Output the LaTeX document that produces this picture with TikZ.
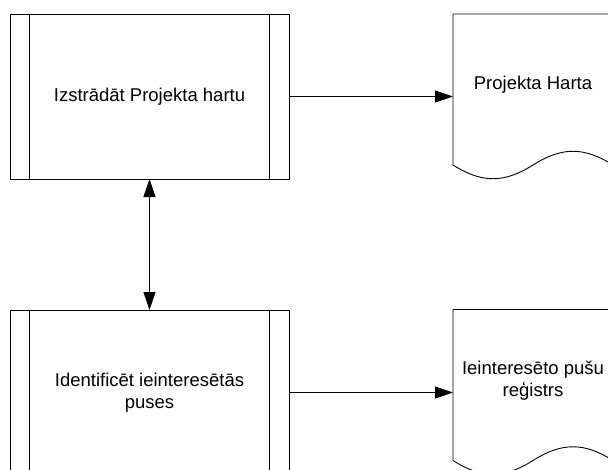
\documentclass[tikz,border=0pt]{standalone}
\usepackage{fontspec}
\setmainfont{Liberation Sans}
\usetikzlibrary{arrows.meta,calc}

\tikzset{
  line/.style={draw=black, line width=0.9pt},
  % process box with a narrow band on each side
  procbox/.style={line, rectangle, minimum width=279pt, minimum height=165pt,
    inner sep=0pt, outer sep=0pt, align=center,
    font=\fontsize{18.5}{22}\selectfont,
    path picture={
      \draw[line width=0.9pt]
        ([xshift=19pt]path picture bounding box.north west) --
        ([xshift=19pt]path picture bounding box.south west)
        ([xshift=-20pt]path picture bounding box.north east) --
        ([xshift=-20pt]path picture bounding box.south east);
    }},
  % area of a document symbol (frame drawn separately)
  docarea/.style={rectangle, minimum width=160pt, minimum height=151pt,
    inner sep=0pt, outer sep=0pt},
  doctext/.style={align=center, inner sep=0pt,
    font=\fontsize{18.5}{22}\selectfont},
  flow/.style={line, -{Triangle[length=18pt,width=12pt]}},
  both/.style={line, {Triangle[length=18pt,width=12pt]}-{Triangle[length=18pt,width=12pt]}},
}

% document outline with a wavy lower edge
\newcommand{\docframe}[1]{%
  \draw[line] (#1.south west) -- (#1.north west) -- (#1.north east) -- (#1.south east)
    .. controls +(-29,-18.3) and +(29,-18.3) .. (#1.south)
    .. controls +(-29,18.3) and +(29,18.3) .. (#1.south west) -- cycle;}

\begin{document}
\begin{tikzpicture}[x=1pt,y=-1pt]
\useasboundingbox[fill=white] (0,0) rectangle (608,469);

\node[procbox] (p1) at (149.5,96.5) {Izstrādāt Projekta hartu};
\node[procbox] (p2) at (149.5,392.5) {Identificēt ieinteresētās\\puses};

\node[docarea] (d1) at (533,89.5) {};
\docframe{d1}
\node[doctext] (t1) at ($(d1.center)+(0,-5)$) {Projekta Harta};

\node[docarea] (d2) at (533,385) {};
\docframe{d2}
\node[doctext] (t2) at ($(d2.center)+(0,-4)$) {Ieinteresēto pušu\\reģistrs};

\draw[flow] (p1.east) -- (p1.east -| d1.west);
\draw[flow] (p2.east) -- (p2.east -| d2.west);
\draw[both] (p1.south) -- (p2.north);
\end{tikzpicture}
\end{document}
